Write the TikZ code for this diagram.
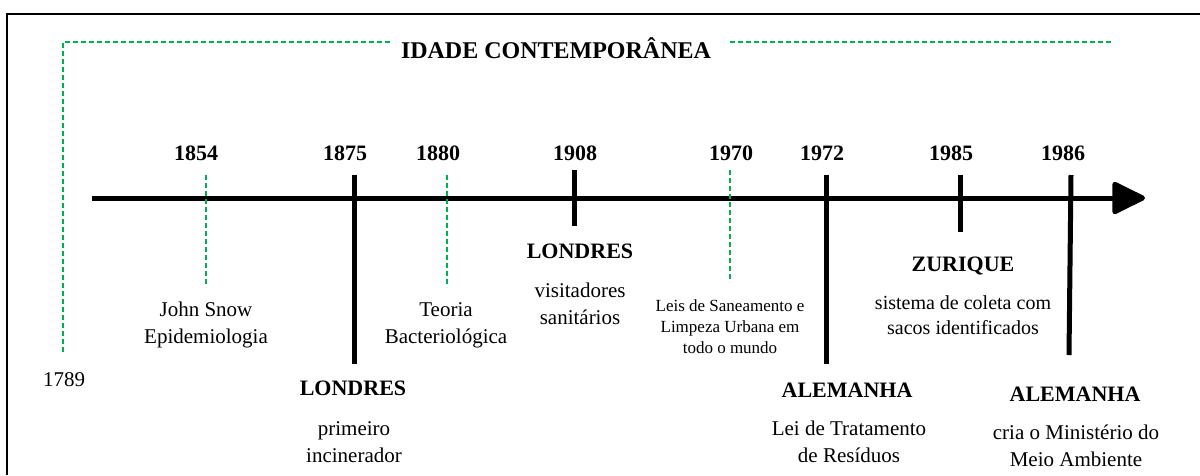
\documentclass[tikz,border=0pt]{standalone}
\usepackage{fontspec}
\setmainfont{Liberation Serif}
\usetikzlibrary{arrows.meta}
\definecolor{tlgreen}{RGB}{0,176,80}
\tikzset{
  greendash/.style={draw=tlgreen, line width=1.3pt, dash pattern=on 5pt off 3pt},
  greendashv/.style={draw=tlgreen, line width=1.3pt, dash pattern=on 7pt off 4pt},
  tick/.style={draw=black, line width=5pt},
  yearlbl/.style={font=\fontsize{22}{26}\selectfont\bfseries, inner sep=0pt},
  placelbl/.style={font=\fontsize{22}{26}\selectfont\bfseries, inner sep=0pt},
  desc/.style={font=\fontsize{21}{27}\selectfont, align=center, inner sep=0pt},
  descsmall/.style={font=\fontsize{17}{21}\selectfont, align=center, inner sep=0pt},
}
\begin{document}
\begin{tikzpicture}[x=1pt,y=-1pt]
\useasboundingbox (0,0) rectangle (1200,475);
% frame
\draw[line width=1.5pt] (7,475) -- (7,14) -- (1200,14);
% green era bracket
\node[font=\fontsize{24}{28}\selectfont\bfseries, inner sep=0pt] (title) at (556,48) {IDADE CONTEMPORÂNEA};
\coordinate (g1789) at (63,352);
\coordinate (gL) at (390,42);
\coordinate (gR) at (730,42);
\coordinate (gRend) at (1111,42);
\draw[greendash] (g1789) |- (gL);
\draw[greendash] (gR) -- (gRend);
% axis
\coordinate (axS) at (92,198);
\coordinate (axE) at (1145,198);
\draw[line width=5pt, -{Triangle[length=36pt,width=34pt,round]}] (axS) -- (axE);
% ticks
\coordinate (a1854) at (206,175); \coordinate (b1854) at (206,287);
\coordinate (a1875) at (354,175); \coordinate (b1875) at (354,364);
\coordinate (a1880) at (447,175); \coordinate (b1880) at (447,287);
\coordinate (a1908) at (574,170); \coordinate (b1908) at (574,226);
\coordinate (a1970) at (730,170); \coordinate (b1970) at (730,282);
\coordinate (a1972) at (826,175); \coordinate (b1972) at (826,364);
\coordinate (a1985) at (960,175); \coordinate (b1985) at (960,232);
\coordinate (a1986) at (1071,175); \coordinate (b1986) at (1069,355);
\draw[greendash] (a1854) -- (b1854);
\draw[tick] (a1875) -- (b1875);
\draw[greendash] (a1880) -- (b1880);
\draw[tick] (a1908) -- (b1908);
\draw[greendash] (a1970) -- (b1970);
\draw[tick] (a1972) -- (b1972);
\draw[tick] (a1985) -- (b1985);
\draw[tick] (a1986) -- (b1986);
% year labels
\node[yearlbl] (y1854) at (196,153) {1854};
\node[yearlbl] (y1875) at (345,153) {1875};
\node[yearlbl] (y1880) at (438,153) {1880};
\node[yearlbl] (y1908) at (575,153) {1908};
\node[yearlbl] (y1970) at (731,153) {1970};
\node[yearlbl] (y1972) at (822,153) {1972};
\node[yearlbl] (y1985) at (951,153) {1985};
\node[yearlbl] (y1986) at (1063,153) {1986};
\node[desc] (y1789) at (64,380) {1789};
% descriptions
\node[desc] (d1854) at (206,325) {John Snow\\Epidemiologia};
\node[placelbl] (p1875) at (353,388) {LONDRES};
\node[desc] (d1875) at (354,442) {primeiro\\incinerador};
\node[desc] (d1880) at (446,325) {Teoria\\Bacteriológica};
\node[placelbl] (p1908) at (580,251) {LONDRES};
\node[desc] (d1908) at (580,304) {visitadores\\sanitários};
\node[descsmall] (d1970) at (730,327) {Leis de Saneamento e\\Limpeza Urbana em\\todo o mundo};
\node[placelbl] (p1985) at (963,266) {ZURIQUE};
\node[desc, font=\fontsize{20}{25}\selectfont] (d1985) at (963,315) {sistema de coleta com\\sacos identificados};
\node[placelbl] (p1972) at (847,390) {ALEMANHA};
\node[desc] (d1972) at (849,442) {Lei de Tratamento\\de Resíduos};
\node[placelbl] (p1986) at (1075,394) {ALEMANHA};
\node[desc] (d1986) at (1076,446) {cria o Ministério do\\Meio Ambiente};
\end{tikzpicture}
\end{document}
